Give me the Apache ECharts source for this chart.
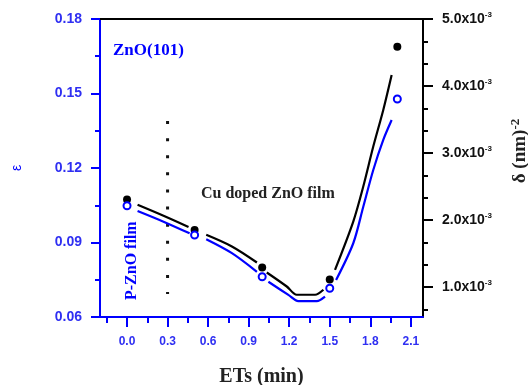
<!DOCTYPE html>
<html>
<head>
<meta charset="utf-8">
<script src="https://cdn.jsdelivr.net/npm/echarts@6/dist/echarts.min.js"></script>
<style>
  html, body { margin: 0; padding: 0; background: #fff; }
  #main { width: 528px; height: 385px; }
</style>
</head>
<body>
<div id="main"></div>
<script>
// measured points
const etTimes = [0.0, 0.5, 1.0, 1.5, 2.0];
const strainEps = [0.1048, 0.0930, 0.0762, 0.0716, 0.1478];
const dislocDelta = [2.309, 1.851, 1.294, 1.115, 4.587]; // in units of 1e-3 nm^-2

// fitted curves as drawn, null = gap around a marker
const epsCurveX = [0.078, 0.27, 0.463, null, 0.586, 0.776, 0.961, null, 1.046, 1.194, 1.268, 1.404, 1.465, null, 1.547, 1.674, 1.748, 1.822, 1.896, 1.958];
const epsCurveY = [0.1027, 0.0984, 0.0937, null, 0.0913, 0.0857, 0.0782, null, 0.0742, 0.0689, 0.0664, 0.0664, 0.0682, null, 0.0749, 0.0897, 0.1044, 0.1192, 0.1313, 0.1393];
const deltaCurveX = [0.078, 0.27, 0.455, null, 0.586, 0.776, 0.961, null, 1.034, 1.182, 1.256, 1.391, 1.453, null, 1.539, 1.674, 1.748, 1.822, 1.896, 1.958];
const deltaCurveY = [2.228, 2.064, 1.896, null, 1.781, 1.607, 1.368, null, 1.219, 1.010, 0.887, 0.887, 0.961, null, 1.259, 1.979, 2.501, 3.097, 3.644, 4.165];

// dotted divider between P-ZnO and Cu doped
const dividerX = [0.3, 0.3];
const dividerY = [0.1389, 0.0693];

// tick labels
const xTicks = [0.0, 0.3, 0.6, 0.9, 1.2, 1.5, 1.8, 2.1];
const xMinorTicks = [-0.15, 0.15, 0.45, 0.75, 1.05, 1.35, 1.65, 1.95];
const rightTicks = [1, 2, 3, 4, 5];
const rightMinorTicks = [0.667, 1.333, 1.667, 2.333, 2.667, 3.333, 3.667, 4.333, 4.667];

const BLUE = '#0000ff';
const LBLUE = '#2f2ff2';
const SERIF = '"Liberation Serif", "DejaVu Serif", serif';
const SANS = '"Liberation Sans", Arial, sans-serif';

function pairs(xs, ys) {
  return xs.map((x, i) => (x === null ? ['-', '-'] : [x, ys[i]]));
}

const chart = echarts.init(document.getElementById('main'));

const xRange = { min: -0.2, max: 2.19 };
const rightRange = { min: 0.555, max: 5 };

const option = {
  animation: false,
  backgroundColor: '#fff',
  grid: { left: 100, right: 105, top: 19, bottom: 68, outerBoundsMode: 'none' },
  xAxis: [
    {
      type: 'value', position: 'bottom', ...xRange,
      axisLine: { onZero: false, lineStyle: { color: BLUE, width: 2 } },
      axisTick: { customValues: xTicks, length: 10, lineStyle: { color: BLUE, width: 2 } },
      axisLabel: {
        customValues: xTicks, margin: 19, color: LBLUE, fontWeight: 'bold',
        fontSize: 12, fontFamily: SANS, formatter: v => v.toFixed(1)
      },
      splitLine: { show: false },
      name: 'ETs (min)', nameLocation: 'middle', nameGap: 50,
      nameTextStyle: { fontFamily: SERIF, fontWeight: 'bold', fontSize: 20, color: '#222' }
    },
    {
      type: 'value', position: 'top', ...xRange,
      axisLine: { onZero: false, lineStyle: { color: '#000', width: 2 } },
      axisTick: { show: false }, axisLabel: { show: false }, splitLine: { show: false }
    },
    {
      type: 'value', position: 'bottom', ...xRange,
      axisLine: { show: false, onZero: false },
      axisTick: { customValues: xMinorTicks, length: 6, lineStyle: { color: BLUE, width: 2 } },
      axisLabel: { show: false }, splitLine: { show: false }
    }
  ],
  yAxis: [
    {
      type: 'value', position: 'left', min: 0.06, max: 0.18, interval: 0.03,
      axisLine: { show: true, onZero: false, lineStyle: { color: BLUE, width: 2 } },
      axisTick: { length: 9, lineStyle: { color: BLUE, width: 2 } },
      minorTick: { show: true, splitNumber: 2, length: 5, lineStyle: { color: BLUE, width: 2 } },
      axisLabel: {
        margin: 18, color: LBLUE, fontWeight: 'bold', fontSize: 14, fontFamily: SANS,
        formatter: v => v.toFixed(2)
      },
      splitLine: { show: false },
      name: 'ε', nameLocation: 'middle', nameGap: 76,
      nameTextStyle: { color: BLUE, fontSize: 14, fontFamily: SANS }
    },
    {
      type: 'value', position: 'right', ...rightRange,
      axisLine: { show: true, onZero: false, lineStyle: { color: '#000', width: 2 } },
      axisTick: { customValues: rightTicks, length: 10, lineStyle: { color: '#000', width: 2 } },
      axisLabel: {
        customValues: rightTicks, margin: 19,
        formatter: v => '{a|' + v.toFixed(1) + 'x10}{s|-3}',
        rich: {
          a: { fontSize: 14, fontWeight: 'bold', fontFamily: SANS, color: '#111', lineHeight: 16 },
          s: { fontSize: 8, fontWeight: 'bold', fontFamily: SANS, color: '#111', verticalAlign: 'top', lineHeight: 16 }
        }
      },
      splitLine: { show: false },
      name: '{d|δ (nm)}{s|-2}', nameLocation: 'middle', nameGap: 86,
      nameTextStyle: {
        padding: [0, 0, 0, 34],
        rich: {
          d: { fontSize: 19, fontFamily: SERIF, fontWeight: 'bold', color: '#222', lineHeight: 22 },
          s: { fontSize: 13, fontFamily: SERIF, fontWeight: 'bold', color: '#222', verticalAlign: 'top', lineHeight: 22 }
        }
      }
    },
    {
      type: 'value', position: 'right', ...rightRange,
      axisLine: { show: false, onZero: false },
      axisTick: { customValues: rightMinorTicks, length: 5, lineStyle: { color: '#000', width: 2 } },
      axisLabel: { show: false }, splitLine: { show: false }
    }
  ],
  series: [
    {
      type: 'line', xAxisIndex: 0, yAxisIndex: 0, data: pairs(dividerX, dividerY),
      showSymbol: false, silent: true,
      lineStyle: { color: '#111', width: 3, type: [3, 14.1], cap: 'butt' }
    },
    {
      type: 'line', xAxisIndex: 0, yAxisIndex: 0, data: pairs(epsCurveX, epsCurveY),
      smooth: 0.3, showSymbol: false, connectNulls: false,
      lineStyle: { color: BLUE, width: 2.2 }
    },
    {
      type: 'line', xAxisIndex: 0, yAxisIndex: 1, data: pairs(deltaCurveX, deltaCurveY),
      smooth: 0.3, showSymbol: false, connectNulls: false,
      lineStyle: { color: '#000', width: 2.2 }
    },
    {
      type: 'scatter', xAxisIndex: 0, yAxisIndex: 1, data: pairs(etTimes, dislocDelta),
      symbol: 'circle', symbolSize: 8, itemStyle: { color: '#000', opacity: 1 }
    },
    {
      type: 'scatter', xAxisIndex: 0, yAxisIndex: 0, data: pairs(etTimes, strainEps),
      symbol: 'emptyCircle', symbolSize: 7, itemStyle: { color: BLUE, borderWidth: 1.5, opacity: 1 }
    }
  ],
  graphic: [
    {
      type: 'text', left: 113, top: 42,
      style: { text: 'ZnO(101)', font: 'bold 17px ' + SERIF, fill: BLUE }
    },
    {
      type: 'text', left: 201, top: 186,
      style: { text: 'Cu doped ZnO film', font: 'bold 16px ' + SERIF, fill: '#222' }
    },
    {
      type: 'text', x: 124, y: 300, rotation: Math.PI / 2,
      style: { text: 'P-ZnO film', font: 'bold 16px ' + SERIF, fill: BLUE, textVerticalAlign: 'top' }
    }
  ]
};

chart.setOption(option);
</script>
</body>
</html>
